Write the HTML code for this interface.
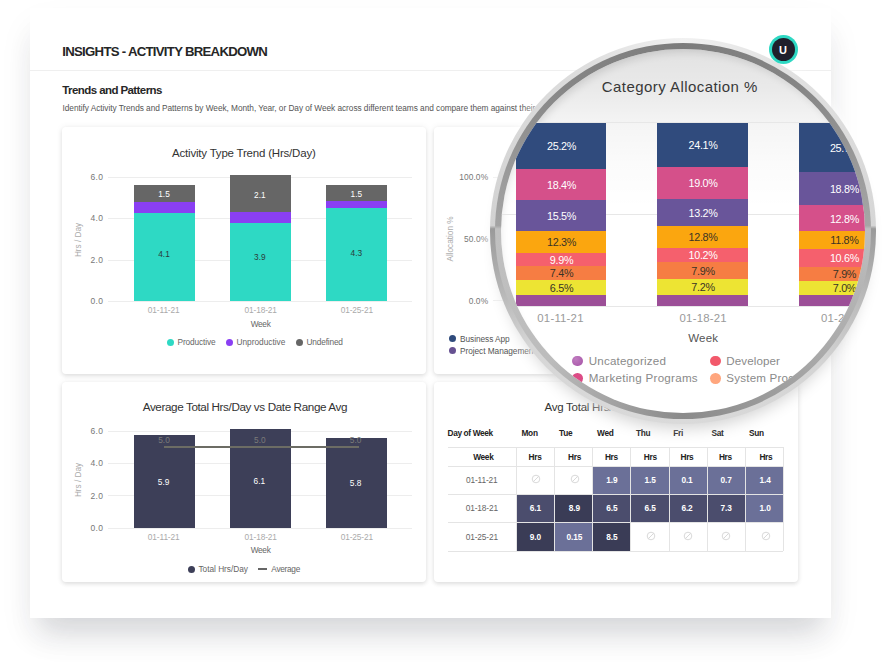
<!DOCTYPE html>
<html lang="en"><head><meta charset="utf-8"><title>Insights - Activity Breakdown</title>
<style>
html,body{margin:0;padding:0;background:#fff;}
body{width:886px;height:667px;position:relative;overflow:hidden;font-family:"Liberation Sans",sans-serif;}
.t{position:absolute;white-space:nowrap;line-height:1;}
.r{position:absolute;}
.card{position:absolute;background:#fff;border-radius:4px;box-shadow:0 2px 4px 0 rgba(0,0,0,.10),0 0 6px 1px rgba(0,0,0,.048);}
#page{position:absolute;left:30px;top:8px;width:800.5px;height:609.7px;background:#fff;box-shadow:0 24px 28px -10px rgba(40,45,60,.145), 0 18px 34px -2px rgba(40,45,60,.07);}
#lens{position:absolute;border-radius:50%;overflow:hidden;background:#fff;}
</style></head><body>

<div id="page"></div>
<div class="t" style="left:62.3px;top:51.6px;font-size:13.2px;color:#262626;transform:translate(0,-50%);font-weight:700;letter-spacing:-0.72px;">INSIGHTS - ACTIVITY BREAKDOWN</div>
<div class="r" style="left:30px;top:70.30000000000001px;width:800.5px;height:1.2px;background:#efefef;"></div>
<div class="t" style="left:62.3px;top:90.5px;font-size:11.5px;color:#262626;transform:translate(0,-50%);font-weight:700;letter-spacing:-0.58px;">Trends and Patterns</div>
<div class="t" style="left:62.5px;top:107.5px;font-size:8.3px;color:#555;transform:translate(0,-50%);letter-spacing:-0.05px;">Identify Activity Trends and Patterns by Week, Month, Year, or Day of Week across different teams and compare them against their</div>
<div class="card" style="left:62.4px;top:127.4px;width:363.70000000000005px;height:246.79999999999998px"></div>
<div class="card" style="left:433.9px;top:127.4px;width:364.1px;height:246.79999999999998px"></div>
<div class="card" style="left:62.4px;top:381.7px;width:363.70000000000005px;height:200.8px"></div>
<div class="card" style="left:433.9px;top:381.7px;width:364.1px;height:200.8px"></div>
<div class="t" style="left:243.8px;top:153.6px;font-size:11.5px;color:#333;transform:translate(-50%,-50%);letter-spacing:-0.2px;">Activity Type Trend (Hrs/Day)</div>
<div class="r" style="left:108px;top:176.75px;width:304px;height:1px;background:#ededed;"></div>
<div class="t" style="left:103.3px;top:177.25px;font-size:8.5px;color:#777;transform:translate(-100%,-50%);letter-spacing:0.3px;">6.0</div>
<div class="r" style="left:108px;top:217.9px;width:304px;height:1px;background:#ededed;"></div>
<div class="t" style="left:103.3px;top:218.4px;font-size:8.5px;color:#777;transform:translate(-100%,-50%);letter-spacing:0.3px;">4.0</div>
<div class="r" style="left:108px;top:259.5px;width:304px;height:1px;background:#ededed;"></div>
<div class="t" style="left:103.3px;top:260px;font-size:8.5px;color:#777;transform:translate(-100%,-50%);letter-spacing:0.3px;">2.0</div>
<div class="r" style="left:108px;top:300.7px;width:304px;height:1px;background:#ededed;"></div>
<div class="t" style="left:103.3px;top:301.2px;font-size:8.5px;color:#777;transform:translate(-100%,-50%);letter-spacing:0.3px;">0.0</div>
<div class="t" style="left:78.8px;top:239.5px;font-size:8.2px;color:#aaa;transform:translate(-50%,-50%);transform:translate(-50%,-50%) rotate(-90deg);">Hrs / Day</div>
<div class="r" style="left:133.5px;top:184.75px;width:61.2px;height:17.75px;background:#666666;"></div>
<div class="r" style="left:133.5px;top:202px;width:61.2px;height:11.25px;background:#8a3ff3;"></div>
<div class="r" style="left:133.5px;top:212.75px;width:61.2px;height:88.25px;background:#2ed9c4;"></div>
<div class="r" style="left:229.5px;top:174.75px;width:61.2px;height:37.75px;background:#666666;"></div>
<div class="r" style="left:229.5px;top:212px;width:61.2px;height:11.25px;background:#8a3ff3;"></div>
<div class="r" style="left:229.5px;top:222.75px;width:61.2px;height:78.25px;background:#2ed9c4;"></div>
<div class="r" style="left:325.8px;top:184.75px;width:61.2px;height:17.0px;background:#666666;"></div>
<div class="r" style="left:325.8px;top:201.25px;width:61.2px;height:7.5px;background:#8a3ff3;"></div>
<div class="r" style="left:325.8px;top:208.25px;width:61.2px;height:92.75px;background:#2ed9c4;"></div>
<div class="t" style="left:164px;top:193.8px;font-size:8.3px;color:#fff;transform:translate(-50%,-50%);">1.5</div>
<div class="t" style="left:259.8px;top:194.6px;font-size:8.3px;color:#fff;transform:translate(-50%,-50%);">2.1</div>
<div class="t" style="left:356.3px;top:193.8px;font-size:8.3px;color:#fff;transform:translate(-50%,-50%);">1.5</div>
<div class="t" style="left:164px;top:254.3px;font-size:8.3px;color:#2b3b3a;transform:translate(-50%,-50%);">4.1</div>
<div class="t" style="left:259.8px;top:256.5px;font-size:8.3px;color:#2b3b3a;transform:translate(-50%,-50%);">3.9</div>
<div class="t" style="left:356.3px;top:252.8px;font-size:8.3px;color:#2b3b3a;transform:translate(-50%,-50%);">4.3</div>
<div class="t" style="left:163.7px;top:310.1px;font-size:8.3px;color:#aaa;transform:translate(-50%,-50%);letter-spacing:-0.12px;">01-11-21</div>
<div class="t" style="left:260.7px;top:310.1px;font-size:8.3px;color:#aaa;transform:translate(-50%,-50%);letter-spacing:-0.12px;">01-18-21</div>
<div class="t" style="left:356.8px;top:310.1px;font-size:8.3px;color:#aaa;transform:translate(-50%,-50%);letter-spacing:-0.12px;">01-25-21</div>
<div class="t" style="left:260.6px;top:323.9px;font-size:8.3px;color:#666;transform:translate(-50%,-50%);letter-spacing:-0.3px;">Week</div>
<div class="r" style="left:166.5px;top:338.5px;width:7px;height:7px;background:#2ed9c4;border-radius:50%;"></div>
<div class="t" style="left:177.5px;top:342px;font-size:8.3px;color:#666;transform:translate(0,-50%);letter-spacing:-0.12px;">Productive</div>
<div class="r" style="left:225.8px;top:338.5px;width:7px;height:7px;background:#8a3ff3;border-radius:50%;"></div>
<div class="t" style="left:236.5px;top:342px;font-size:8.3px;color:#666;transform:translate(0,-50%);">Unproductive</div>
<div class="r" style="left:295.5px;top:338.5px;width:7px;height:7px;background:#666666;border-radius:50%;"></div>
<div class="t" style="left:306.5px;top:342px;font-size:8.3px;color:#666;transform:translate(0,-50%);letter-spacing:-0.17px;">Undefined</div>
<div class="t" style="left:244.9px;top:407px;font-size:11.7px;color:#333;transform:translate(-50%,-50%);letter-spacing:-0.39px;">Average Total Hrs/Day vs Date Range Avg</div>
<div class="r" style="left:108px;top:430.8px;width:304px;height:1px;background:#ededed;"></div>
<div class="t" style="left:103.3px;top:431.3px;font-size:8.5px;color:#777;transform:translate(-100%,-50%);letter-spacing:0.3px;">6.0</div>
<div class="r" style="left:108px;top:462.6px;width:304px;height:1px;background:#ededed;"></div>
<div class="t" style="left:103.3px;top:463.1px;font-size:8.5px;color:#777;transform:translate(-100%,-50%);letter-spacing:0.3px;">4.0</div>
<div class="r" style="left:108px;top:495.3px;width:304px;height:1px;background:#ededed;"></div>
<div class="t" style="left:103.3px;top:495.8px;font-size:8.5px;color:#777;transform:translate(-100%,-50%);letter-spacing:0.3px;">2.0</div>
<div class="r" style="left:108px;top:527.6px;width:304px;height:1px;background:#ededed;"></div>
<div class="t" style="left:103.3px;top:528.1px;font-size:8.5px;color:#777;transform:translate(-100%,-50%);letter-spacing:0.3px;">0.0</div>
<div class="t" style="left:78.8px;top:480px;font-size:8.2px;color:#aaa;transform:translate(-50%,-50%);transform:translate(-50%,-50%) rotate(-90deg);">Hrs / Day</div>
<div class="r" style="left:133.5px;top:434.5px;width:61.2px;height:93.5px;background:#3d3f58;"></div>
<div class="r" style="left:229.5px;top:429px;width:61.2px;height:99px;background:#3d3f58;"></div>
<div class="r" style="left:325.8px;top:438px;width:61.2px;height:90px;background:#3d3f58;"></div>
<div class="t" style="left:164px;top:439.5px;font-size:8.3px;color:#7b7b78;transform:translate(-50%,-50%);">5.0</div>
<div class="t" style="left:259.8px;top:439.5px;font-size:8.3px;color:#7b7b78;transform:translate(-50%,-50%);">5.0</div>
<div class="t" style="left:355.6px;top:439.5px;font-size:8.3px;color:#7b7b78;transform:translate(-50%,-50%);">5.0</div>
<div class="r" style="left:163.7px;top:446.3px;width:195.60000000000002px;height:1.4px;background:#6c6c64;"></div>
<div class="t" style="left:163.6px;top:481.6px;font-size:8.3px;color:#fff;transform:translate(-50%,-50%);">5.9</div>
<div class="t" style="left:259.3px;top:480.8px;font-size:8.3px;color:#fff;transform:translate(-50%,-50%);">6.1</div>
<div class="t" style="left:355.6px;top:482.6px;font-size:8.3px;color:#fff;transform:translate(-50%,-50%);">5.8</div>
<div class="t" style="left:163.7px;top:536.6px;font-size:8.3px;color:#aaa;transform:translate(-50%,-50%);letter-spacing:-0.12px;">01-11-21</div>
<div class="t" style="left:260.7px;top:536.6px;font-size:8.3px;color:#aaa;transform:translate(-50%,-50%);letter-spacing:-0.12px;">01-18-21</div>
<div class="t" style="left:356.8px;top:536.6px;font-size:8.3px;color:#aaa;transform:translate(-50%,-50%);letter-spacing:-0.12px;">01-25-21</div>
<div class="t" style="left:260.6px;top:550.2px;font-size:8.3px;color:#666;transform:translate(-50%,-50%);letter-spacing:-0.3px;">Week</div>
<div class="r" style="left:187.5px;top:565.5px;width:7px;height:7px;background:#3d3f58;border-radius:50%;"></div>
<div class="t" style="left:198.5px;top:569px;font-size:8.3px;color:#666;transform:translate(0,-50%);letter-spacing:-0.03px;">Total Hrs/Day</div>
<div class="r" style="left:257.5px;top:568.2px;width:9.0px;height:1.6px;background:#666;"></div>
<div class="t" style="left:271.3px;top:569px;font-size:8.3px;color:#666;transform:translate(0,-50%);letter-spacing:-0.3px;">Average</div>
<div class="r" style="left:493px;top:176.8px;width:297px;height:1px;background:#ededed;"></div>
<div class="t" style="left:488.2px;top:177.3px;font-size:8.4px;color:#777;transform:translate(-100%,-50%);letter-spacing:0.1px;">100.0%</div>
<div class="r" style="left:493px;top:238.4px;width:297px;height:1px;background:#ededed;"></div>
<div class="t" style="left:488.2px;top:238.9px;font-size:8.4px;color:#777;transform:translate(-100%,-50%);letter-spacing:0.1px;">50.0%</div>
<div class="r" style="left:493px;top:300.0px;width:297px;height:1px;background:#ededed;"></div>
<div class="t" style="left:488.2px;top:300.5px;font-size:8.4px;color:#777;transform:translate(-100%,-50%);letter-spacing:0.1px;">0.0%</div>
<div class="t" style="left:450.6px;top:239px;font-size:8.2px;color:#aaa;transform:translate(-50%,-50%);transform:translate(-50%,-50%) rotate(-90deg);">Allocation %</div>
<div class="r" style="left:448.5px;top:335.3px;width:7px;height:7px;background:#2f4b7c;border-radius:50%;"></div>
<div class="t" style="left:460px;top:338.8px;font-size:8.3px;color:#555;transform:translate(0,-50%);letter-spacing:-0.05px;">Business App</div>
<div class="r" style="left:448.5px;top:347.4px;width:7px;height:7px;background:#665191;border-radius:50%;"></div>
<div class="t" style="left:460px;top:350.9px;font-size:8.3px;color:#555;transform:translate(0,-50%);letter-spacing:-0.05px;">Project Management</div>
<div class="t" style="left:544.5px;top:408.0px;font-size:11.5px;color:#333;transform:translate(0,-50%);letter-spacing:-0.25px;">Avg Total Hrs/Day by Weekday</div>
<div class="t" style="left:447.5px;top:432.8px;font-size:8.3px;color:#222;transform:translate(0,-50%);font-weight:700;letter-spacing:-0.36px;">Day of Week</div>
<div class="t" style="left:521.5px;top:432.8px;font-size:8.3px;color:#222;transform:translate(0,-50%);font-weight:700;letter-spacing:-0.3px;">Mon</div>
<div class="t" style="left:559px;top:432.8px;font-size:8.3px;color:#222;transform:translate(0,-50%);font-weight:700;letter-spacing:-0.3px;">Tue</div>
<div class="t" style="left:597px;top:432.8px;font-size:8.3px;color:#222;transform:translate(0,-50%);font-weight:700;letter-spacing:-0.3px;">Wed</div>
<div class="t" style="left:636px;top:432.8px;font-size:8.3px;color:#222;transform:translate(0,-50%);font-weight:700;letter-spacing:-0.3px;">Thu</div>
<div class="t" style="left:673.3px;top:432.8px;font-size:8.3px;color:#222;transform:translate(0,-50%);font-weight:700;letter-spacing:-0.3px;">Fri</div>
<div class="t" style="left:711.5px;top:432.8px;font-size:8.3px;color:#222;transform:translate(0,-50%);font-weight:700;letter-spacing:-0.3px;">Sat</div>
<div class="t" style="left:749px;top:432.8px;font-size:8.3px;color:#222;transform:translate(0,-50%);font-weight:700;letter-spacing:-0.3px;">Sun</div>
<div class="r" style="left:592.8px;top:466.9px;width:37.50000000000002px;height:27.50000000000002px;background:#6b7098;"></div>
<div class="r" style="left:630.9px;top:466.9px;width:38.20000000000007px;height:27.50000000000002px;background:#6b7098;"></div>
<div class="r" style="left:669.7px;top:466.9px;width:37.4px;height:27.50000000000002px;background:#6b7098;"></div>
<div class="r" style="left:707.7px;top:466.9px;width:37.299999999999976px;height:27.50000000000002px;background:#6b7098;"></div>
<div class="r" style="left:745.6px;top:466.9px;width:37.50000000000002px;height:27.50000000000002px;background:#6b7098;"></div>
<div class="r" style="left:516.8px;top:495.0px;width:37.4px;height:27.799999999999976px;background:#4b4d6d;"></div>
<div class="r" style="left:554.8px;top:495.0px;width:37.4px;height:27.799999999999976px;background:#3a3c56;"></div>
<div class="r" style="left:592.8px;top:495.0px;width:37.50000000000002px;height:27.799999999999976px;background:#4b4d6d;"></div>
<div class="r" style="left:630.9px;top:495.0px;width:38.20000000000007px;height:27.799999999999976px;background:#4b4d6d;"></div>
<div class="r" style="left:669.7px;top:495.0px;width:37.4px;height:27.799999999999976px;background:#4b4d6d;"></div>
<div class="r" style="left:707.7px;top:495.0px;width:37.299999999999976px;height:27.799999999999976px;background:#4b4d6d;"></div>
<div class="r" style="left:745.6px;top:495.0px;width:37.50000000000002px;height:27.799999999999976px;background:#6b7098;"></div>
<div class="r" style="left:516.8px;top:523.4px;width:37.4px;height:27.700000000000067px;background:#3a3c56;"></div>
<div class="r" style="left:554.8px;top:523.4px;width:37.4px;height:27.700000000000067px;background:#6b7098;"></div>
<div class="r" style="left:592.8px;top:523.4px;width:37.50000000000002px;height:27.700000000000067px;background:#3a3c56;"></div>
<div class="r" style="left:448.2px;top:446.5px;width:335.2px;height:1px;background:#e4e4e4;"></div>
<div class="r" style="left:448.2px;top:465.9px;width:335.2px;height:1px;background:#e4e4e4;"></div>
<div class="r" style="left:448.2px;top:494.0px;width:335.2px;height:1px;background:#e4e4e4;"></div>
<div class="r" style="left:448.2px;top:522.4px;width:335.2px;height:1px;background:#e4e4e4;"></div>
<div class="r" style="left:448.2px;top:550.7px;width:335.2px;height:1px;background:#e4e4e4;"></div>
<div class="r" style="left:515.8px;top:447px;width:1px;height:104.20000000000005px;background:#e4e4e4;"></div>
<div class="r" style="left:553.8px;top:447px;width:1px;height:104.20000000000005px;background:#e4e4e4;"></div>
<div class="r" style="left:591.8px;top:447px;width:1px;height:104.20000000000005px;background:#e4e4e4;"></div>
<div class="r" style="left:629.9px;top:447px;width:1px;height:104.20000000000005px;background:#e4e4e4;"></div>
<div class="r" style="left:668.7px;top:447px;width:1px;height:104.20000000000005px;background:#e4e4e4;"></div>
<div class="r" style="left:706.7px;top:447px;width:1px;height:104.20000000000005px;background:#e4e4e4;"></div>
<div class="r" style="left:744.6px;top:447px;width:1px;height:104.20000000000005px;background:#e4e4e4;"></div>
<div class="r" style="left:782.7px;top:447px;width:1px;height:104.20000000000005px;background:#e4e4e4;"></div>
<svg class="r" style="left:530.8px;top:474.25px" width="10" height="10" viewBox="0 0 10 10"><circle cx="5" cy="5" r="3.8" fill="none" stroke="#cfcfcf" stroke-width="0.8"/><line x1="2.5" y1="7.5" x2="7.5" y2="2.5" stroke="#cfcfcf" stroke-width="0.8"/></svg>
<svg class="r" style="left:570.0px;top:474.25px" width="10" height="10" viewBox="0 0 10 10"><circle cx="5" cy="5" r="3.8" fill="none" stroke="#cfcfcf" stroke-width="0.8"/><line x1="2.5" y1="7.5" x2="7.5" y2="2.5" stroke="#cfcfcf" stroke-width="0.8"/></svg>
<div class="t" style="left:611.9499999999998px;top:480.15px;font-size:8.3px;color:#fff;transform:translate(-50%,-50%);font-weight:700;letter-spacing:-0.1px;">1.9</div>
<div class="t" style="left:650.0999999999999px;top:480.15px;font-size:8.3px;color:#fff;transform:translate(-50%,-50%);font-weight:700;letter-spacing:-0.1px;">1.5</div>
<div class="t" style="left:687.0px;top:480.15px;font-size:8.3px;color:#fff;transform:translate(-50%,-50%);font-weight:700;letter-spacing:-0.1px;">0.1</div>
<div class="t" style="left:726.2px;top:480.15px;font-size:8.3px;color:#fff;transform:translate(-50%,-50%);font-weight:700;letter-spacing:-0.1px;">0.7</div>
<div class="t" style="left:765.2px;top:480.15px;font-size:8.3px;color:#fff;transform:translate(-50%,-50%);font-weight:700;letter-spacing:-0.1px;">1.4</div>
<div class="t" style="left:535.3499999999999px;top:508.4px;font-size:8.3px;color:#fff;transform:translate(-50%,-50%);font-weight:700;letter-spacing:-0.1px;">6.1</div>
<div class="t" style="left:574.3499999999999px;top:508.4px;font-size:8.3px;color:#fff;transform:translate(-50%,-50%);font-weight:700;letter-spacing:-0.1px;">8.9</div>
<div class="t" style="left:611.9499999999998px;top:508.4px;font-size:8.3px;color:#fff;transform:translate(-50%,-50%);font-weight:700;letter-spacing:-0.1px;">6.5</div>
<div class="t" style="left:650.0999999999999px;top:508.4px;font-size:8.3px;color:#fff;transform:translate(-50%,-50%);font-weight:700;letter-spacing:-0.1px;">6.5</div>
<div class="t" style="left:687.0px;top:508.4px;font-size:8.3px;color:#fff;transform:translate(-50%,-50%);font-weight:700;letter-spacing:-0.1px;">6.2</div>
<div class="t" style="left:726.2px;top:508.4px;font-size:8.3px;color:#fff;transform:translate(-50%,-50%);font-weight:700;letter-spacing:-0.1px;">7.3</div>
<div class="t" style="left:765.2px;top:508.4px;font-size:8.3px;color:#fff;transform:translate(-50%,-50%);font-weight:700;letter-spacing:-0.1px;">1.0</div>
<div class="t" style="left:535.3499999999999px;top:536.75px;font-size:8.3px;color:#fff;transform:translate(-50%,-50%);font-weight:700;letter-spacing:-0.1px;">9.0</div>
<div class="t" style="left:574.3499999999999px;top:536.75px;font-size:8.3px;color:#fff;transform:translate(-50%,-50%);font-weight:700;letter-spacing:-0.1px;">0.15</div>
<div class="t" style="left:611.9499999999998px;top:536.75px;font-size:8.3px;color:#fff;transform:translate(-50%,-50%);font-weight:700;letter-spacing:-0.1px;">8.5</div>
<svg class="r" style="left:645.8px;top:530.8499999999999px" width="10" height="10" viewBox="0 0 10 10"><circle cx="5" cy="5" r="3.8" fill="none" stroke="#cfcfcf" stroke-width="0.8"/><line x1="2.5" y1="7.5" x2="7.5" y2="2.5" stroke="#cfcfcf" stroke-width="0.8"/></svg>
<svg class="r" style="left:683.45px;top:530.8499999999999px" width="10" height="10" viewBox="0 0 10 10"><circle cx="5" cy="5" r="3.8" fill="none" stroke="#cfcfcf" stroke-width="0.8"/><line x1="2.5" y1="7.5" x2="7.5" y2="2.5" stroke="#cfcfcf" stroke-width="0.8"/></svg>
<svg class="r" style="left:721.1500000000001px;top:530.8499999999999px" width="10" height="10" viewBox="0 0 10 10"><circle cx="5" cy="5" r="3.8" fill="none" stroke="#cfcfcf" stroke-width="0.8"/><line x1="2.5" y1="7.5" x2="7.5" y2="2.5" stroke="#cfcfcf" stroke-width="0.8"/></svg>
<svg class="r" style="left:761.4000000000001px;top:530.8499999999999px" width="10" height="10" viewBox="0 0 10 10"><circle cx="5" cy="5" r="3.8" fill="none" stroke="#cfcfcf" stroke-width="0.8"/><line x1="2.5" y1="7.5" x2="7.5" y2="2.5" stroke="#cfcfcf" stroke-width="0.8"/></svg>
<div class="t" style="left:483.3px;top:456.6px;font-size:8.3px;color:#222;transform:translate(-50%,-50%);font-weight:700;letter-spacing:-0.3px;">Week</div>
<div class="t" style="left:535.05px;top:456.6px;font-size:8.3px;color:#222;transform:translate(-50%,-50%);font-weight:700;letter-spacing:-0.3px;">Hrs</div>
<div class="t" style="left:574.5px;top:456.6px;font-size:8.3px;color:#222;transform:translate(-50%,-50%);font-weight:700;letter-spacing:-0.3px;">Hrs</div>
<div class="t" style="left:611.3499999999999px;top:456.6px;font-size:8.3px;color:#222;transform:translate(-50%,-50%);font-weight:700;letter-spacing:-0.3px;">Hrs</div>
<div class="t" style="left:650.3px;top:456.6px;font-size:8.3px;color:#222;transform:translate(-50%,-50%);font-weight:700;letter-spacing:-0.3px;">Hrs</div>
<div class="t" style="left:686.95px;top:456.6px;font-size:8.3px;color:#222;transform:translate(-50%,-50%);font-weight:700;letter-spacing:-0.3px;">Hrs</div>
<div class="t" style="left:725.4000000000001px;top:456.6px;font-size:8.3px;color:#222;transform:translate(-50%,-50%);font-weight:700;letter-spacing:-0.3px;">Hrs</div>
<div class="t" style="left:765.9000000000001px;top:456.6px;font-size:8.3px;color:#222;transform:translate(-50%,-50%);font-weight:700;letter-spacing:-0.3px;">Hrs</div>
<div class="t" style="left:481.8px;top:480.2px;font-size:8.3px;color:#666;transform:translate(-50%,-50%);letter-spacing:-0.12px;">01-11-21</div>
<div class="t" style="left:481.8px;top:508.4px;font-size:8.3px;color:#666;transform:translate(-50%,-50%);letter-spacing:-0.12px;">01-18-21</div>
<div class="t" style="left:481.8px;top:536.6px;font-size:8.3px;color:#666;transform:translate(-50%,-50%);letter-spacing:-0.12px;">01-25-21</div>
<div class="r" style="left:497.8px;top:47.69999999999999px;width:370.6px;height:370.6px;background:rgba(255,255,255,0);border-radius:50%;box-shadow:0 11px 15px 0px rgba(0,0,0,.17), 0 0 15px 8px rgba(255,255,255,.95);"></div>
<div class="r" style="left:490.40000000000003px;top:38.30000000000001px;width:385.4px;height:385.4px;background:#ccc;border-radius:50%;background:conic-gradient(from 0deg at 50% 49%,#f1f1f1 0deg,#e2e2e2 30deg,#d6d6d6 89.5deg,#9a9a9a 90.5deg,#b8b8b8 110deg,#d4d4d4 135deg,#dadada 180deg,#d6d6d6 232deg,#b4b4b4 252deg,#9a9a9a 269.5deg,#d2d2d2 270.5deg,#dedede 330deg,#f1f1f1 360deg);"></div>
<div class="r" style="left:494.8px;top:42.69999999999999px;width:376.6px;height:376.6px;background:#999;border-radius:50%;background:conic-gradient(from 0deg at 50% 49%,#7c7c7c 0deg,#868686 40deg,#a6a6a6 89.5deg,#bebebe 90.5deg,#a8a8a8 135deg,#8a8a8a 180deg,#bcbcbc 225deg,#c0c0c0 269.5deg,#a4a4a4 270.5deg,#868686 320deg,#7c7c7c 360deg);"></div>
<div id="lens" style="left:500.70000000000005px;top:48.599999999999994px;width:364.8px;height:364.8px;">
<div class="r" style="left:-500.70000000000005px;top:-48.599999999999994px;width:886px;height:667px;">
<div class="r" style="left:500.70000000000005px;top:48.599999999999994px;width:364.8px;height:364.8px;border-radius:50%;background:linear-gradient(180deg,rgba(0,0,0,.115) 0px,rgba(0,0,0,.085) 38px,rgba(0,0,0,.04) 78px,rgba(0,0,0,.015) 115px,rgba(0,0,0,0) 160px);box-shadow:inset 3px 7px 10px -5px rgba(0,0,0,.14);"></div>
<div class="r" style="left:480px;top:122.1px;width:410px;height:1px;background:#e7e7e7;"></div>
<div class="r" style="left:480px;top:213.8px;width:410px;height:1px;background:#e7e7e7;"></div>
<div class="r" style="left:480px;top:305.5px;width:410px;height:1px;background:#e7e7e7;"></div>
<div class="r" style="left:515.9px;top:123.2px;width:90.3px;height:46.1px;background:#304b7d;"></div>
<div class="t" style="left:561.55px;top:146.45000000000002px;font-size:10.8px;color:#fff;transform:translate(-50%,-50%);letter-spacing:-0.3px;">25.2%</div>
<div class="r" style="left:515.9px;top:168.9px;width:90.3px;height:31.499999999999993px;background:#d5508a;"></div>
<div class="t" style="left:561.55px;top:184.85px;font-size:10.8px;color:#fff;transform:translate(-50%,-50%);letter-spacing:-0.3px;">18.4%</div>
<div class="r" style="left:515.9px;top:200.0px;width:90.3px;height:31.300000000000004px;background:#69559a;"></div>
<div class="t" style="left:561.55px;top:215.85px;font-size:10.8px;color:#fff;transform:translate(-50%,-50%);letter-spacing:-0.3px;">15.5%</div>
<div class="r" style="left:515.9px;top:230.9px;width:90.3px;height:22.4px;background:#fba60f;"></div>
<div class="t" style="left:561.55px;top:242.3px;font-size:10.8px;color:#3a3326;transform:translate(-50%,-50%);letter-spacing:-0.3px;">12.3%</div>
<div class="r" style="left:515.9px;top:252.9px;width:90.3px;height:13.800000000000006px;background:#f5606d;"></div>
<div class="t" style="left:561.55px;top:260.0px;font-size:10.8px;color:#fff;transform:translate(-50%,-50%);letter-spacing:-0.3px;">9.9%</div>
<div class="r" style="left:515.9px;top:266.3px;width:90.3px;height:13.700000000000012px;background:#f67d43;"></div>
<div class="t" style="left:561.55px;top:273.35px;font-size:10.8px;color:#3a3326;transform:translate(-50%,-50%);letter-spacing:-0.3px;">7.4%</div>
<div class="r" style="left:515.9px;top:279.6px;width:90.3px;height:15.599999999999989px;background:#ede433;"></div>
<div class="t" style="left:561.55px;top:287.6px;font-size:10.8px;color:#3a3326;transform:translate(-50%,-50%);letter-spacing:-0.3px;">6.5%</div>
<div class="r" style="left:515.9px;top:294.8px;width:90.3px;height:11.099999999999989px;background:#9c4f97;"></div>
<div class="r" style="left:657.4px;top:123.2px;width:90.3px;height:43.699999999999996px;background:#304b7d;"></div>
<div class="t" style="left:703.05px;top:145.25px;font-size:10.8px;color:#fff;transform:translate(-50%,-50%);letter-spacing:-0.3px;">24.1%</div>
<div class="r" style="left:657.4px;top:166.5px;width:90.3px;height:32.70000000000001px;background:#d5508a;"></div>
<div class="t" style="left:703.05px;top:183.05px;font-size:10.8px;color:#fff;transform:translate(-50%,-50%);letter-spacing:-0.3px;">19.0%</div>
<div class="r" style="left:657.4px;top:198.8px;width:90.3px;height:27.099999999999987px;background:#69559a;"></div>
<div class="t" style="left:703.05px;top:212.55px;font-size:10.8px;color:#fff;transform:translate(-50%,-50%);letter-spacing:-0.3px;">13.2%</div>
<div class="r" style="left:657.4px;top:225.5px;width:90.3px;height:22.70000000000001px;background:#fba60f;"></div>
<div class="t" style="left:703.05px;top:237.05px;font-size:10.8px;color:#3a3326;transform:translate(-50%,-50%);letter-spacing:-0.3px;">12.8%</div>
<div class="r" style="left:657.4px;top:247.8px;width:90.3px;height:14.700000000000012px;background:#f5606d;"></div>
<div class="t" style="left:703.05px;top:255.35000000000002px;font-size:10.8px;color:#fff;transform:translate(-50%,-50%);letter-spacing:-0.3px;">10.2%</div>
<div class="r" style="left:657.4px;top:262.1px;width:90.3px;height:16.799999999999976px;background:#f67d43;"></div>
<div class="t" style="left:703.05px;top:270.7px;font-size:10.8px;color:#3a3326;transform:translate(-50%,-50%);letter-spacing:-0.3px;">7.9%</div>
<div class="r" style="left:657.4px;top:278.5px;width:90.3px;height:16.70000000000001px;background:#ede433;"></div>
<div class="t" style="left:703.05px;top:287.04999999999995px;font-size:10.8px;color:#3a3326;transform:translate(-50%,-50%);letter-spacing:-0.3px;">7.2%</div>
<div class="r" style="left:657.4px;top:294.8px;width:90.3px;height:11.099999999999989px;background:#9c4f97;"></div>
<div class="r" style="left:798.8px;top:123.2px;width:90.3px;height:49.00000000000001px;background:#304b7d;"></div>
<div class="t" style="left:844.4499999999999px;top:147.9px;font-size:10.8px;color:#fff;transform:translate(-50%,-50%);letter-spacing:-0.3px;">25.7%</div>
<div class="r" style="left:798.8px;top:171.8px;width:90.3px;height:33.99999999999999px;background:#69559a;"></div>
<div class="t" style="left:844.4499999999999px;top:189.00000000000003px;font-size:10.8px;color:#fff;transform:translate(-50%,-50%);letter-spacing:-0.3px;">18.8%</div>
<div class="r" style="left:798.8px;top:205.4px;width:90.3px;height:26.099999999999987px;background:#d5508a;"></div>
<div class="t" style="left:844.4499999999999px;top:218.65px;font-size:10.8px;color:#fff;transform:translate(-50%,-50%);letter-spacing:-0.3px;">12.8%</div>
<div class="r" style="left:798.8px;top:231.1px;width:90.3px;height:18.100000000000016px;background:#fba60f;"></div>
<div class="t" style="left:844.4499999999999px;top:240.35px;font-size:10.8px;color:#3a3326;transform:translate(-50%,-50%);letter-spacing:-0.3px;">11.8%</div>
<div class="r" style="left:798.8px;top:248.8px;width:90.3px;height:18.20000000000001px;background:#f5606d;"></div>
<div class="t" style="left:844.4499999999999px;top:258.1px;font-size:10.8px;color:#fff;transform:translate(-50%,-50%);letter-spacing:-0.3px;">10.6%</div>
<div class="r" style="left:798.8px;top:266.6px;width:90.3px;height:14.499999999999966px;background:#f67d43;"></div>
<div class="t" style="left:844.4499999999999px;top:274.04999999999995px;font-size:10.8px;color:#3a3326;transform:translate(-50%,-50%);letter-spacing:-0.3px;">7.9%</div>
<div class="r" style="left:798.8px;top:280.7px;width:90.3px;height:14.700000000000012px;background:#ede433;"></div>
<div class="t" style="left:844.4499999999999px;top:288.25px;font-size:10.8px;color:#3a3326;transform:translate(-50%,-50%);letter-spacing:-0.3px;">7.0%</div>
<div class="r" style="left:798.8px;top:295.0px;width:90.3px;height:10.9px;background:#9c4f97;"></div>
<div class="t" style="left:679.8px;top:86.2px;font-size:15px;color:#383838;transform:translate(-50%,-50%);letter-spacing:0.44px;">Category Allocation %</div>
<div class="t" style="left:560.5px;top:319.0px;font-size:11.4px;color:#9a9a9a;transform:translate(-50%,-50%);letter-spacing:0.2px;">01-11-21</div>
<div class="t" style="left:703.2px;top:319.0px;font-size:11.4px;color:#9a9a9a;transform:translate(-50%,-50%);letter-spacing:0.2px;">01-18-21</div>
<div class="t" style="left:844.5px;top:319.0px;font-size:11.4px;color:#9a9a9a;transform:translate(-50%,-50%);letter-spacing:0.2px;">01-25-21</div>
<div class="t" style="left:703.2px;top:339.3px;font-size:11.5px;color:#555;transform:translate(-50%,-50%);letter-spacing:0.15px;">Week</div>
<div class="r" style="left:572.3000000000001px;top:355.5px;width:10.8px;height:10.8px;background:#b565b4;border-radius:50%;background:radial-gradient(circle at 35% 30%,#c07cc0,#a553a6);"></div>
<div class="t" style="left:588.7px;top:360.6px;font-size:11.6px;color:#8a8a8a;transform:translate(0,-50%);letter-spacing:0.2px;">Uncategorized</div>
<div class="r" style="left:709.8000000000001px;top:355.5px;width:10.8px;height:10.8px;background:#f2596b;border-radius:50%;"></div>
<div class="t" style="left:726.3px;top:360.6px;font-size:11.6px;color:#8a8a8a;transform:translate(0,-50%);letter-spacing:0.1px;">Developer</div>
<div class="r" style="left:572.3000000000001px;top:373.0px;width:10.8px;height:10.8px;background:#dc4c86;border-radius:50%;"></div>
<div class="t" style="left:588.7px;top:378.3px;font-size:11.6px;color:#8a8a8a;transform:translate(0,-50%);letter-spacing:0.27px;">Marketing Programs</div>
<div class="r" style="left:709.8000000000001px;top:373.0px;width:10.8px;height:10.8px;background:#ffa67e;border-radius:50%;"></div>
<div class="t" style="left:726.3px;top:378.3px;font-size:11.6px;color:#8a8a8a;transform:translate(0,-50%);letter-spacing:0.2px;">System Programs</div>
</div></div>
<div class="r" style="left:768.5px;top:34.9px;width:29px;height:29px;background:#2ed8c3;border-radius:50%;"></div>
<div class="r" style="left:771.5px;top:37.9px;width:23px;height:23px;background:#1f1f2c;border-radius:50%;"></div>
<div class="t" style="left:783px;top:49.6px;font-size:11px;color:#fff;transform:translate(-50%,-50%);font-weight:700;">U</div>
</body></html>
